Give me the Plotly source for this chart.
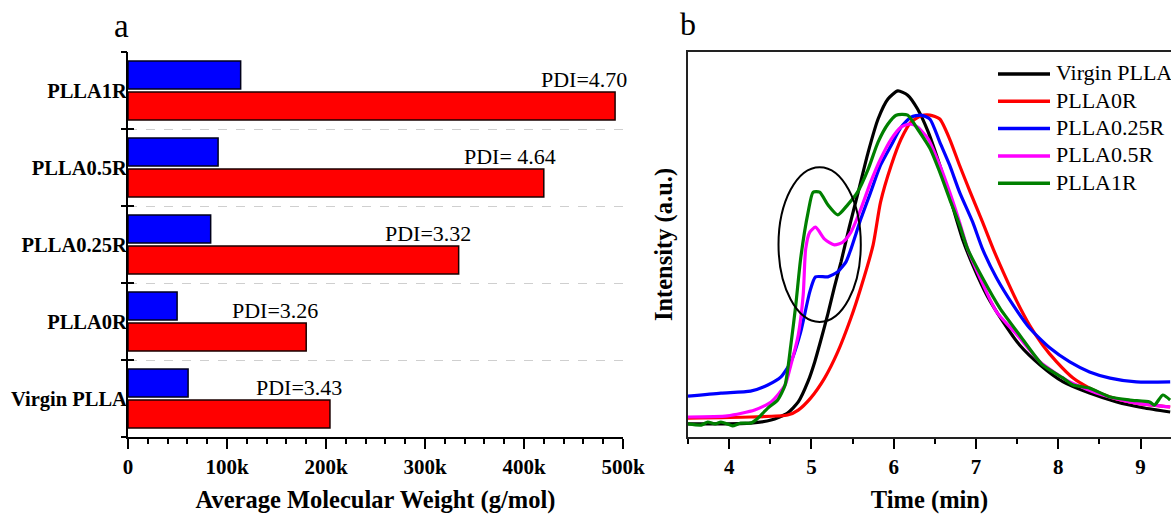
import plotly.graph_objects as go

# ---------------- panel a: molecular weights ----------------
samples = ["Virgin PLLA", "PLLA0R", "PLLA0.25R", "PLLA0.5R", "PLLA1R"]
mn_values = [60700, 49600, 83500, 91000, 113800]     # blue bars
mw_values = [204000, 180000, 334000, 420000, 492000]  # red bars
pdi_labels = ["PDI=3.43", "PDI=3.26", "PDI=3.32", "PDI= 4.64", "PDI=4.70"]
mw_tickvals = [0, 100000, 200000, 300000, 400000, 500000]
mw_ticktext = ["0", "100k", "200k", "300k", "400k", "500k"]

# ---------------- panel b: GPC traces ----------------
t_virgin = [3.50, 3.90, 4.26, 4.51, 4.71, 4.84, 4.96, 5.04, 5.11, 5.20, 5.28, 5.36,
            5.46, 5.56, 5.69, 5.81, 5.93, 6.05, 6.17, 6.29, 6.42, 6.56, 6.71, 6.84,
            6.96, 7.13, 7.33, 7.53, 7.78, 8.06, 8.38, 8.71, 9.03, 9.36]
i_virgin = [3.4, 3.4, 3.6, 4.4, 6.2, 9.1, 14.5, 19.5, 24.8, 32.0, 39.0, 45.5,
            54.5, 62.9, 74.0, 82.6, 87.8, 89.9, 88.8, 85.2, 79.2, 70.6, 60.3, 51.2,
            44.7, 36.9, 29.9, 23.9, 18.7, 14.3, 11.4, 9.1, 7.6, 6.5]

t_0r = [3.50, 4.26, 4.71, 4.84, 4.99, 5.16, 5.32, 5.48, 5.60, 5.75, 5.84, 5.97,
        6.09, 6.21, 6.33, 6.44, 6.56, 6.68, 6.80, 6.93, 7.08, 7.21, 7.33, 7.50,
        7.65, 7.81, 7.98, 8.18, 8.38, 8.63, 8.95, 9.36]
i_0r = [4.9, 5.2, 5.7, 7.0, 10.1, 15.3, 22.1, 30.9, 38.7, 49.9, 61.0, 70.6,
        77.4, 81.8, 83.4, 83.6, 82.6, 77.4, 70.6, 63.6, 55.8, 48.8, 42.9, 35.1,
        29.1, 23.9, 19.5, 15.3, 12.7, 10.4, 8.8, 7.8]

t_025r = [3.50, 3.90, 4.26, 4.47, 4.63, 4.75, 4.87, 4.98, 5.05, 5.20, 5.32, 5.42,
          5.48, 5.60, 5.72, 5.84, 5.97, 6.09, 6.21, 6.33, 6.44, 6.56, 6.68, 6.80,
          6.96, 7.08, 7.25, 7.45, 7.65, 7.90, 8.14, 8.38, 8.63, 8.95, 9.36]
i_025r = [10.6, 11.4, 11.9, 13.5, 15.6, 19.5, 27.3, 37.7, 41.6, 41.6, 42.9, 45.5,
          48.8, 56.6, 63.6, 70.6, 75.8, 80.5, 83.1, 83.6, 82.6, 76.6, 70.6, 63.6,
          55.8, 48.8, 41.3, 34.3, 28.3, 23.1, 19.5, 16.9, 15.3, 14.3, 14.3]

t_05r = [3.50, 3.98, 4.31, 4.51, 4.68, 4.75, 4.84, 4.90, 4.93, 4.98, 5.05, 5.16,
         5.28, 5.38, 5.48, 5.60, 5.72, 5.84, 5.97, 6.09, 6.20, 6.29, 6.42, 6.56,
         6.68, 6.80, 6.90, 7.05, 7.25, 7.50, 7.78, 8.14, 8.54, 8.95, 9.36]
i_05r = [5.2, 5.5, 7.0, 9.1, 13.5, 18.7, 26.5, 36.9, 48.8, 53.2, 54.5, 51.4,
         49.9, 50.6, 53.2, 59.2, 66.2, 72.2, 77.4, 80.5, 81.3, 80.5, 77.4, 70.6,
         63.6, 55.8, 48.8, 41.3, 32.5, 26.5, 19.5, 14.3, 10.9, 8.8, 7.8]

t_1r = [3.50, 3.66, 3.74, 3.83, 3.90, 3.98, 4.04, 4.14, 4.26, 4.31, 4.35, 4.47,
        4.59, 4.68, 4.75, 4.81, 4.87, 4.96, 5.02, 5.10, 5.20, 5.32, 5.44, 5.56,
        5.69, 5.81, 5.93, 6.03, 6.17, 6.29, 6.44, 6.56, 6.68, 6.80, 6.90, 7.08,
        7.29, 7.53, 7.81, 8.06, 8.18, 8.38, 8.63, 8.87, 9.11, 9.17, 9.27, 9.36]
i_1r = [3.4, 3.1, 3.9, 3.4, 3.9, 3.4, 2.9, 3.6, 3.6, 4.2, 4.9, 7.5,
        9.6, 13.5, 23.9, 34.3, 46.5, 58.4, 63.6, 63.6, 60.3, 57.7, 60.3, 63.6,
        69.6, 76.6, 81.3, 83.6, 83.6, 80.0, 75.0, 68.8, 61.8, 55.1, 48.8, 41.3,
        33.5, 26.5, 18.7, 15.3, 13.5, 12.7, 10.4, 9.6, 9.1, 8.3, 10.9, 9.6]

gpc_series = [
    ("Virgin PLLA", t_virgin, i_virgin, "#000000"),
    ("PLLA0R", t_0r, i_0r, "#ff0000"),
    ("PLLA0.25R", t_025r, i_025r, "#0000ff"),
    ("PLLA0.5R", t_05r, i_05r, "#ff00ff"),
    ("PLLA1R", t_1r, i_1r, "#008000"),
]
time_ticks = [4, 5, 6, 7, 8, 9]

SERIF = "Liberation Serif"
W, H = 1171, 514
ydom = [0.1498, 0.8988]
boundaries = [i - 0.5 for i in range(len(samples) + 1)]
yrange = [boundaries[0], boundaries[-1]]

fig = go.Figure()

# grouped horizontal bars: first trace sits lower in each group
fig.add_trace(go.Bar(y=samples, x=mw_values, orientation="h",
                     marker=dict(color="#ff0000", line=dict(color="#1a0000", width=1.5)),
                     xaxis="x", yaxis="y", showlegend=False, hoverinfo="x"))
fig.add_trace(go.Bar(y=samples, x=mn_values, orientation="h",
                     marker=dict(color="#0000ff", line=dict(color="#00001a", width=1.5)),
                     xaxis="x", yaxis="y", showlegend=False, hoverinfo="x"))

# empty traces so the overlaid boundary-tick axes get drawn
for ax in ("y3", "y4"):
    fig.add_trace(go.Scatter(x=[0, 0], y=yrange, mode="none", xaxis="x", yaxis=ax,
                             showlegend=False, hoverinfo="skip"))

for s, mw, lab in zip(samples, mw_values, pdi_labels):
    fig.add_annotation(x=mw, y=s, xref="x", yref="y", text=lab, showarrow=False,
                       xanchor="right", yanchor="bottom", xshift=14, yshift=-3,
                       font=dict(family=SERIF, size=22, color="black"))

for name, t, inten, col in gpc_series:
    fig.add_trace(go.Scatter(x=t, y=inten, mode="lines", name=name,
                             line=dict(color=col, width=3.2, shape="spline", smoothing=0.6),
                             xaxis="x2", yaxis="y2", showlegend=False))

# ellipse highlighting the high-molecular-weight shoulder
fig.add_shape(type="circle", xref="x2", yref="y2", x0=4.60, x1=5.60, y0=29.9, y1=70.1,
              line=dict(color="black", width=2))

# legend keys for panel b
leg_top, leg_step = 74, 27.3
for k, (name, _, _, col) in enumerate(gpc_series):
    yk = 1 - (leg_top + k * leg_step) / H
    fig.add_shape(type="line", xref="paper", yref="paper", x0=998 / W, x1=1050 / W,
                  y0=yk, y1=yk, line=dict(color=col, width=3.5))
    fig.add_annotation(text=name, x=1054 / W, y=yk, xref="paper", yref="paper",
                       showarrow=False, xanchor="left", yanchor="middle", yshift=1,
                       font=dict(family=SERIF, size=22, color="black"))

tick_font = dict(family=SERIF, size=21, color="black", weight="bold")
title_font = dict(family=SERIF, size=24.5, color="black", weight="bold")

fig.update_layout(
    width=W, height=H,
    margin=dict(l=0, r=0, t=0, b=0),
    paper_bgcolor="white", plot_bgcolor="white",
    barmode="group", bargap=0.195, bargroupgap=0.096,
    showlegend=False,
    xaxis=dict(domain=[128 / W, 623 / W], anchor="y", range=[0, 500000],
               tickvals=mw_tickvals, ticktext=mw_ticktext,
               ticks="outside", ticklen=10, tickwidth=2, tickcolor="black",
               minor=dict(dtick=20000, ticks="outside", ticklen=5, tickwidth=2, tickcolor="black"),
               showline=True, linewidth=2, linecolor="black", showgrid=False, zeroline=False,
               tickfont=tick_font, automargin=False,
               title=dict(text="Average Molecular Weight (g/mol)", font=title_font, standoff=19)),
    yaxis=dict(domain=ydom, anchor="x", type="category", categoryarray=samples,
               categoryorder="array", range=yrange,
               ticks="", showline=True, linewidth=2, linecolor="black", showgrid=False,
               zeroline=False, ticklabelstandoff=-5,
               tickfont=dict(family=SERIF, size=20.5, color="black", weight="bold"),
               automargin=False),
    yaxis3=dict(domain=ydom, anchor="x", overlaying="y", range=yrange,
                tickvals=boundaries, showticklabels=False, ticks="outside", ticklen=6,
                tickwidth=2, tickcolor="black", showgrid=True, griddash="dash",
                gridcolor="#cfcfcf", gridwidth=1, zeroline=False, showline=False,
                automargin=False),
    yaxis4=dict(domain=ydom, anchor="x", overlaying="y", range=yrange,
                tickvals=boundaries, showticklabels=False, ticks="inside", ticklen=6,
                tickwidth=2, tickcolor="black", showgrid=False, zeroline=False,
                showline=False, automargin=False),
    xaxis2=dict(domain=[688 / W, 1.0], anchor="y2", range=[3.5, 9.37],
                tickvals=time_ticks, ticks="outside", ticklen=10, tickwidth=2,
                tickcolor="black",
                minor=dict(dtick=0.5, ticks="outside", ticklen=5, tickwidth=2, tickcolor="black"),
                showline=True, linewidth=2, linecolor="#222222", mirror=True,
                showgrid=False, zeroline=False, tickfont=tick_font, automargin=False,
                title=dict(text="Time (min)", font=title_font, standoff=20)),
    yaxis2=dict(domain=ydom, anchor="x2", range=[0, 100], showticklabels=False,
                ticks="", showline=True, linewidth=2, linecolor="#222222", mirror=False,
                showgrid=False, zeroline=False, automargin=False,
                title=dict(text="Intensity (a.u.)", font=title_font, standoff=6)),
)

fig.add_annotation(text="a", x=121 / W, y=1 - 26 / H, xref="paper", yref="paper",
                   showarrow=False, xanchor="center", yanchor="middle",
                   font=dict(family=SERIF, size=33, color="black"))
fig.add_annotation(text="b", x=688 / W, y=1 - 24 / H, xref="paper", yref="paper",
                   showarrow=False, xanchor="center", yanchor="middle",
                   font=dict(family=SERIF, size=32, color="black"))

fig.write_html("out.html")
